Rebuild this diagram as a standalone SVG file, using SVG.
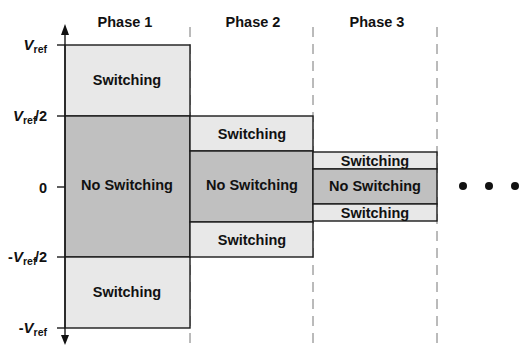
<svg xmlns="http://www.w3.org/2000/svg" width="520" height="345" viewBox="0 0 520 345">
<defs>
<style>
text{font-family:"Liberation Sans",Arial,sans-serif;font-weight:bold;fill:#111}
.t{font-size:14.5px;text-anchor:middle}
.s{font-size:14.5px;text-anchor:middle}
.ax{font-size:14.5px;text-anchor:end}
.v{font-style:italic;font-size:15px}
.sub{font-size:10.5px;font-style:normal}
.lt{fill:#e8e8e8;stroke:#1a1a1a;stroke-width:1.4}
.dk{fill:#c0c0c0;stroke:#1a1a1a;stroke-width:1.4}
.dash{stroke:#777;stroke-width:1;stroke-dasharray:10 7;fill:none}
.tick{stroke:#1a1a1a;stroke-width:1.4}
</style>
</defs>
<g id="guides">
<line class="dash" x1="190" y1="27" x2="190" y2="345"/>
<line class="dash" x1="313" y1="27" x2="313" y2="345"/>
<line class="dash" x1="437" y1="27" x2="437" y2="345"/>
</g>
<g id="phase1">
<text class="t" x="125" y="27">Phase 1</text>
<rect class="lt" x="65" y="45" width="125" height="71"/>
<text class="t" x="127" y="85">Switching</text>
<rect class="dk" x="65" y="116" width="125" height="141"/>
<text class="t" x="127" y="190">No Switching</text>
<rect class="lt" x="65" y="257" width="125" height="71"/>
<text class="t" x="127" y="297">Switching</text>
</g>
<g id="phase2">
<text class="t" x="253" y="27">Phase 2</text>
<rect class="lt" x="190" y="116" width="123" height="35"/>
<text class="t" x="252" y="139">Switching</text>
<rect class="dk" x="190" y="151" width="123" height="71"/>
<text class="t" x="252" y="190">No Switching</text>
<rect class="lt" x="190" y="222" width="123" height="35"/>
<text class="t" x="252" y="245">Switching</text>
</g>
<g id="phase3">
<text class="t" x="377" y="27">Phase 3</text>
<rect class="lt" x="313" y="152" width="124" height="17"/>
<text class="s" x="375" y="165.5">Switching</text>
<rect class="dk" x="313" y="169" width="124" height="35"/>
<text class="t" x="375" y="191">No Switching</text>
<rect class="lt" x="313" y="204" width="124" height="17"/>
<text class="s" x="375" y="217.5">Switching</text>
</g>
<g id="dots" fill="#111">
<circle cx="463" cy="186" r="4"/>
<circle cx="489" cy="186" r="4"/>
<circle cx="515" cy="186" r="4"/>
</g>
<g id="axis">
<line class="tick" x1="65" y1="32" x2="65" y2="337"/>
<polygon points="65,24 61,35 69,35" fill="#111"/>
<polygon points="65,345 61,335 69,335" fill="#111"/>
<line class="tick" x1="57" y1="45" x2="65" y2="45"/>
<line class="tick" x1="57" y1="116" x2="65" y2="116"/>
<line class="tick" x1="57" y1="187" x2="65" y2="187"/>
<line class="tick" x1="57" y1="257" x2="65" y2="257"/>
<line class="tick" x1="57" y1="328" x2="65" y2="328"/>
<text class="ax" x="47" y="50"><tspan class="v">V</tspan><tspan class="sub" dy="2.5">ref</tspan></text>
<text class="ax" x="47" y="121"><tspan class="v">V</tspan><tspan class="sub" dy="2.5">ref</tspan><tspan dy="-2.5" dx="-1.5">/2</tspan></text>
<text class="ax" x="47" y="193">0</text>
<text class="ax" x="47" y="262">-<tspan class="v">V</tspan><tspan class="sub" dy="2.5">ref</tspan><tspan dy="-2.5" dx="-1.5">/2</tspan></text>
<text class="ax" x="47" y="333">-<tspan class="v">V</tspan><tspan class="sub" dy="2.5">ref</tspan></text>
</g>
</svg>
